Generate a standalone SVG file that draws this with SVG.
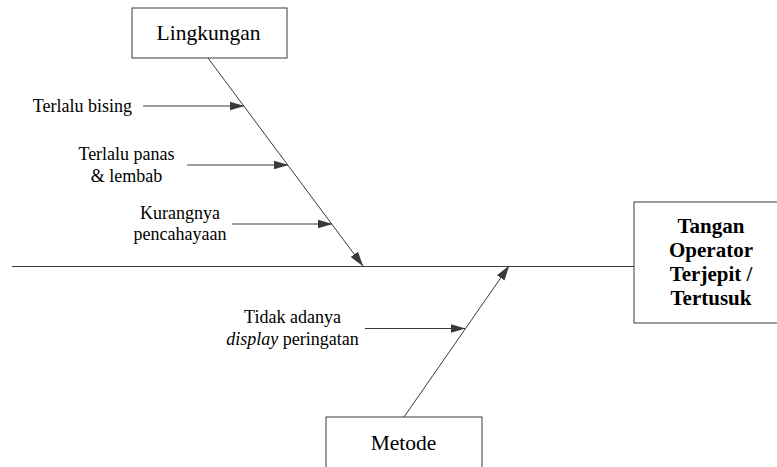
<svg xmlns="http://www.w3.org/2000/svg" width="777" height="467" viewBox="0 0 777 467">
<defs>
<marker id="ah" markerWidth="15" markerHeight="10" refX="14.5" refY="5" orient="auto" markerUnits="userSpaceOnUse">
<path d="M0,0.5 L15,5 L0,9.5 Z" fill="#3a3a3a"/>
</marker>
<style>
.ln{stroke:#3a3a3a;stroke-width:1;fill:none}
.box{fill:#fff;stroke:#3a3a3a;stroke-width:1}
.t{font-family:'Liberation Serif','Times New Roman',serif;fill:#000}
.lbl{font-size:18px}
.big{font-size:21.5px}
.bold{font-size:21px;font-weight:bold}
</style>
</defs>
<g id="connectors">
<line class="ln" x1="12" y1="266.5" x2="634" y2="266.5"/>
<line class="ln" x1="208" y1="58" x2="363" y2="266" marker-end="url(#ah)"/>
<line class="ln" x1="404" y1="417" x2="509" y2="266" marker-end="url(#ah)"/>
<line class="ln" x1="143" y1="106" x2="244" y2="106" marker-end="url(#ah)"/>
<line class="ln" x1="187" y1="165" x2="288" y2="165" marker-end="url(#ah)"/>
<line class="ln" x1="232" y1="224" x2="332" y2="224" marker-end="url(#ah)"/>
<line class="ln" x1="365" y1="328.5" x2="465" y2="328.5" marker-end="url(#ah)"/>
</g>
<g id="lingkungan">
<rect class="box" x="132" y="8" width="155" height="50"/>
<text class="t big" x="208.5" y="39.5" text-anchor="middle">Lingkungan</text>
</g>
<g id="metode">
<rect class="box" x="326" y="417" width="156" height="60"/>
<text class="t big" x="403.5" y="450" text-anchor="middle">Metode</text>
</g>
<g id="effect">
<rect class="box" x="634" y="202" width="160" height="121"/>
<text class="t bold" x="711" y="233" text-anchor="middle">Tangan</text>
<text class="t bold" x="711" y="257" text-anchor="middle">Operator</text>
<text class="t bold" x="711" y="281" text-anchor="middle">Terjepit /</text>
<text class="t bold" x="711" y="305" text-anchor="middle">Tertusuk</text>
</g>
<g id="c1">
<text class="t lbl" x="132" y="112" text-anchor="end">Terlalu bising</text>
</g>
<g id="c2">
<text class="t lbl" x="126.5" y="160" text-anchor="middle">Terlalu panas</text>
<text class="t lbl" x="126.5" y="181.5" text-anchor="middle">&amp; lembab</text>
</g>
<g id="c3">
<text class="t lbl" x="180" y="218.5" text-anchor="middle">Kurangnya</text>
<text class="t lbl" x="180" y="240" text-anchor="middle">pencahayaan</text>
</g>
<g id="c4">
<text class="t lbl" x="292.5" y="323" text-anchor="middle">Tidak adanya</text>
<text class="t lbl" x="292.5" y="344.5" text-anchor="middle"><tspan font-style="italic">display</tspan> peringatan</text>
</g>
</svg>
